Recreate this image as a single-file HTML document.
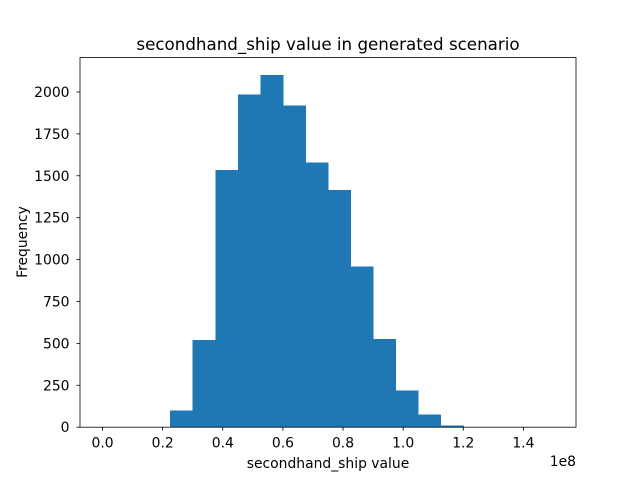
<!DOCTYPE html>
<html><head><meta charset="utf-8"><style>
body{margin:0;background:#fff;}
svg{display:block;font-family:"DejaVu Sans","Liberation Sans",sans-serif;}
</style></head><body>
<svg id="chart" width="640" height="480" viewBox="0 0 640 480">
<rect width="640" height="480" fill="#fff"/>
<text x="328" y="50" font-size="16.7" text-anchor="middle">secondhand_ship value in generated scenario</text>
<g id="bars" shape-rendering="crispEdges"></g>
<g id="xticks"></g>
<g id="yticks"></g>
<rect x="80" y="57.6" width="496" height="369.6" fill="none" stroke="#000" stroke-width="0.8"/>
<text x="328" y="468" font-size="13.9" text-anchor="middle">secondhand_ship value</text>
<text x="27" y="242" font-size="13.9" text-anchor="middle" transform="rotate(-90 27 242)">Frequency</text>
<text x="576" y="466" font-size="13.9" text-anchor="end">1e8</text>
</svg>
<script>
const binStart = 0, binWidth = 0.075;
const counts = [0,0,0,100,520,1535,1985,2100,1920,1580,1415,960,525,220,75,10,0,0,0,1];
const xTickLabels = ["0.0","0.2","0.4","0.6","0.8","1.0","1.2","1.4"];
const xTickValues = [0,0.2,0.4,0.6,0.8,1.0,1.2,1.4];
const yTickValues = [0,250,500,750,1000,1250,1500,1750,2000];
const L=80,R=576,T=57.6,B=427.2;
const xmin=-0.075,xmax=1.575;
const ymax=Math.max(...counts)*1.05;
const xs=v=>L+(v-xmin)/(xmax-xmin)*(R-L);
const ys=v=>B-v/ymax*(B-T);
const NS="http://www.w3.org/2000/svg";
const bars=document.getElementById('bars');
counts.forEach((c,i)=>{
  const r=document.createElementNS(NS,'rect');
  const x0=xs(binStart+i*binWidth),x1=xs(binStart+(i+1)*binWidth);
  r.setAttribute('x',x0);r.setAttribute('width',x1-x0+0.5);
  r.setAttribute('y',ys(c));r.setAttribute('height',B-ys(c));
  r.setAttribute('fill','#1f77b4');
  
  
  bars.appendChild(r);
});
const xt=document.getElementById('xticks');
xTickValues.forEach((v,i)=>{
  const x=xs(v);
  const l=document.createElementNS(NS,'line');
  l.setAttribute('x1',x);l.setAttribute('x2',x);l.setAttribute('y1',B);l.setAttribute('y2',B+3.5);
  l.setAttribute('stroke','#000');l.setAttribute('stroke-width','0.8');
  
  
  xt.appendChild(l);
  const t=document.createElementNS(NS,'text');
  t.setAttribute('x',x);t.setAttribute('y',B+20.5);t.setAttribute('font-size','13.9');t.setAttribute('text-anchor','middle');
  t.textContent=xTickLabels[i];
  
  
  xt.appendChild(t);
});
const yt=document.getElementById('yticks');
yTickValues.forEach(v=>{
  const y=ys(v);
  const l=document.createElementNS(NS,'line');
  l.setAttribute('x1',L-3.5);l.setAttribute('x2',L);l.setAttribute('y1',y);l.setAttribute('y2',y);
  l.setAttribute('stroke','#000');l.setAttribute('stroke-width','0.8');
  
  
  yt.appendChild(l);
  const t=document.createElementNS(NS,'text');
  t.setAttribute('x',L-10.5);t.setAttribute('y',y+5);t.setAttribute('font-size','13.9');t.setAttribute('text-anchor','end');
  t.textContent=v;
  
  
  yt.appendChild(t);
});
</script>
</body></html>
